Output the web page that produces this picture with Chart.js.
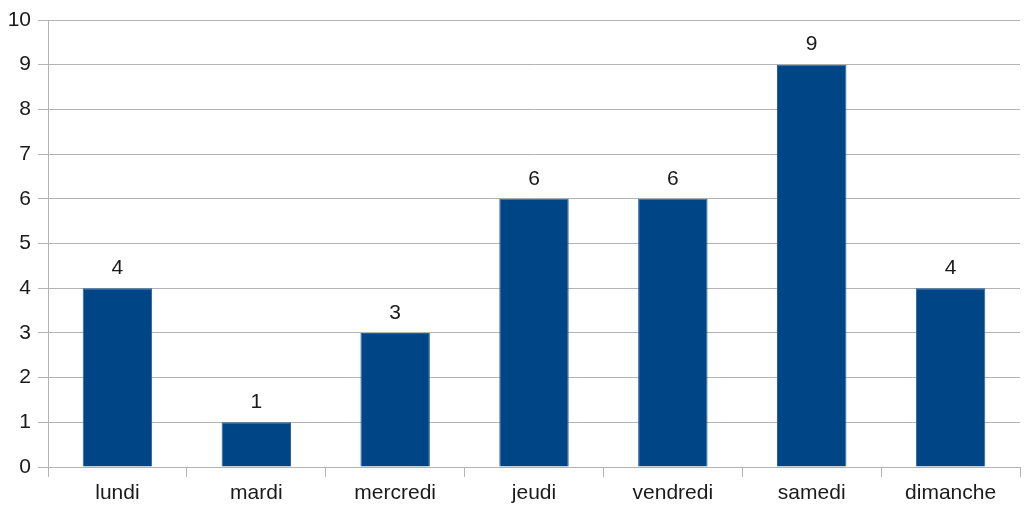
<!DOCTYPE html>
<html>
<head>
<meta charset="utf-8">
<script src="https://cdn.jsdelivr.net/npm/chart.js@4"></script>
<style>
  html, body { margin: 0; padding: 0; background: #fff; }
  #wrap { width: 1024px; height: 508px; }
</style>
</head>
<body>
<div id="wrap"><canvas id="myChart" width="1024" height="508"></canvas></div>
<script>
const days = ['lundi', 'mardi', 'mercredi', 'jeudi', 'vendredi', 'samedi', 'dimanche'];
const counts = [4, 1, 3, 6, 6, 9, 4];
const yMin = 0;
const yMax = 10;

// draws the value above each bar
const valueLabels = {
  id: 'valueLabels',
  afterDatasetsDraw(chart) {
    const c = chart.ctx;
    const meta = chart.getDatasetMeta(0);
    c.save();
    c.font = '21px "Liberation Sans", Arial, sans-serif';
    c.fillStyle = '#1a1a1a';
    c.textAlign = 'center';
    c.textBaseline = 'middle';
    meta.data.forEach((bar, i) => {
      c.fillText(String(chart.data.datasets[0].data[i]), bar.x, bar.y - 20);
    });
    c.restore();
  }
};

const ctx = document.getElementById('myChart').getContext('2d');
const myChart = new Chart(ctx, {
  type: 'bar',
  data: {
    labels: days,
    datasets: [{
      data: counts,
      backgroundColor: '#004586',
      borderColor: '#2a5e94',
      borderWidth: 1,
      barPercentage: 0.5,
      categoryPercentage: 1
    }]
  },
  options: {
    responsive: false,
    animation: false,
    layout: { padding: { top: 20, right: 4, left: 0, bottom: 0 } },
    plugins: { legend: { display: false }, tooltip: { enabled: false } },
    scales: {
      x: {
        offset: true,
        grid: {
          offset: true,
          drawOnChartArea: false,
          drawTicks: true,
          tickLength: 10,
          color: '#b3b3b3'
        },
        border: { display: false },
        ticks: {
          color: '#1a1a1a',
          padding: 4,
          font: { family: '"Liberation Sans", Arial, sans-serif', size: 21 }
        },
        afterFit: s => { s.height = 41; }
      },
      y: {
        min: yMin,
        max: yMax,
        grid: { color: '#b3b3b3', tickLength: 10 },
        border: { display: true, color: '#b3b3b3' },
        ticks: {
          stepSize: 1,
          color: '#1a1a1a',
          padding: 7,
          font: { family: '"Liberation Sans", Arial, sans-serif', size: 21 }
        },
        afterFit: s => { s.width = 48; }
      }
    }
  },
  plugins: [valueLabels]
});
</script>
</body>
</html>
